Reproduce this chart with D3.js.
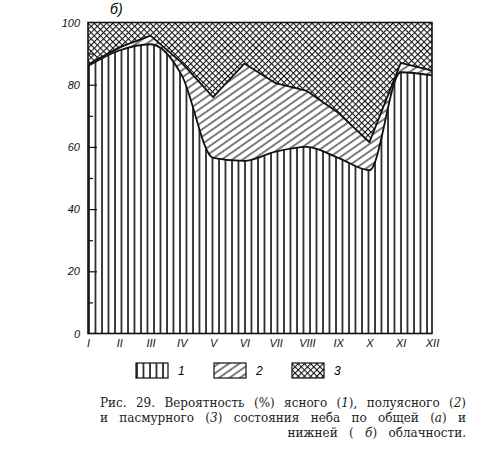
<!DOCTYPE html>
<html>
<head>
<meta charset="utf-8">
<script src="https://cdn.jsdelivr.net/npm/d3@7"></script>
<style>
body { margin: 0; background: #fff; }
.axis text { font-family: "Liberation Sans", sans-serif; font-style: italic; font-size: 11px; fill: #111; }
.axis path { display: none; }
.caption { font-family: "DejaVu Serif", serif; font-size: 12px; fill: #222; }
</style>
</head>
<body>
<div class="chart"></div>
<script>
// values, % by month
var months = ["I", "II", "III", "IV", "V", "VI", "VII", "VIII", "IX", "X", "XI", "XII"];
var clear = [86, 91, 93, 83, 56.5, 55.5, 58.5, 60, 56.5, 52.5, 84, 83];          // 1
var semiClear = [0.5, 1, 2.8, 4, 19.5, 31.3, 22, 18, 14.5, 9, 3, 1.5];           // 2
var overcast = [13.5, 8, 4.2, 13, 24, 13.2, 19.5, 22, 29, 38.5, 13, 15.5];       // 3
var yTicks = [0, 20, 40, 60, 80, 100];
var yMinor = [10, 30, 50, 70, 90];
var legendLabels = ["1", "2", "3"];

var margin = {top: 22.5, left: 88};
var Width = 344, Height = 311;

var rows = months.map(function(m, i) {
  return {month: m, clear: clear[i], semi: semiClear[i], overcast: overcast[i]};
});
var stacked = d3.stack().keys(["clear", "semi", "overcast"])(rows);

var svg = d3.select(".chart").append("svg")
  .attr("width", 494).attr("height", 460);

var defs = svg.append("defs");
// 1 - vertical hatch
var p1 = defs.append("pattern").attr("id", "hatch1")
  .attr("patternUnits", "userSpaceOnUse").attr("width", 6.5).attr("height", 10);
p1.append("rect").attr("width", 6.5).attr("height", 10).attr("fill", "#fff");
p1.append("line").attr("x1", 1).attr("x2", 1).attr("y1", 0).attr("y2", 10)
  .attr("stroke", "#111").attr("stroke-width", 1.6);
// 2 - slanted hatch
var p2 = defs.append("pattern").attr("id", "hatch2")
  .attr("patternUnits", "userSpaceOnUse").attr("width", 10).attr("height", 6)
  .attr("patternTransform", "rotate(-35)");
p2.append("rect").attr("width", 10).attr("height", 6).attr("fill", "#fff");
p2.append("line").attr("x1", 0).attr("x2", 10).attr("y1", 3).attr("y2", 3)
  .attr("stroke", "#111").attr("stroke-width", 1.1);
// 3 - cross hatch
var p3 = defs.append("pattern").attr("id", "hatch3")
  .attr("patternUnits", "userSpaceOnUse").attr("width", 4.4).attr("height", 4.4)
  .attr("patternTransform", "rotate(45)");
p3.append("rect").attr("width", 4.4).attr("height", 4.4).attr("fill", "#fff");
p3.append("line").attr("x1", 0).attr("x2", 4.4).attr("y1", 0.5).attr("y2", 0.5)
  .attr("stroke", "#111").attr("stroke-width", 1.1);
p3.append("line").attr("x1", 0.5).attr("x2", 0.5).attr("y1", 0).attr("y2", 4.4)
  .attr("stroke", "#111").attr("stroke-width", 1.1);
var fills = ["url(#hatch1)", "url(#hatch2)", "url(#hatch3)"];

var g = svg.append("g").attr("transform", "translate(" + margin.left + "," + margin.top + ")");

var xScale = d3.scalePoint().domain(months).range([0, Width]);
var yScale = d3.scaleLinear().domain([0, 100]).range([Height, 0]);

// upper edge of layer 1 is smooth, upper edge of layer 2 has sharp corners
var curves = [d3.curveMonotoneX, d3.curveLinear, d3.curveLinear];

// paint from the top layer down, each one filled to the x axis
[2, 1, 0].forEach(function(k) {
  var area = d3.area()
    .x(function(d) { return xScale(d.data.month); })
    .y0(Height)
    .y1(function(d) { return yScale(d[1]); })
    .curve(curves[k]);
  g.append("path").datum(stacked[k])
    .attr("fill", fills[k])
    .attr("d", area);
});

// boundary lines between layers
[0, 1].forEach(function(k) {
  var line = d3.line()
    .x(function(d) { return xScale(d.data.month); })
    .y(function(d) { return yScale(d[1]); })
    .curve(curves[k]);
  g.append("path").datum(stacked[k])
    .attr("fill", "none")
    .attr("stroke", "#111")
    .attr("stroke-width", 1.8)
    .attr("stroke-linejoin", "round")
    .attr("d", line);
});

// frame
g.append("rect").attr("width", Width).attr("height", Height)
  .attr("fill", "none").attr("stroke", "#111").attr("stroke-width", 1.6);

// y axis: labels outside, ticks inward
g.append("g").attr("class", "axis")
  .call(d3.axisLeft(yScale).tickValues(yTicks).tickSize(0).tickPadding(8));
g.append("g").attr("class", "axis")
  .call(d3.axisRight(yScale).tickValues(yTicks.slice(1, -1)).tickSize(9).tickFormat(""))
  .selectAll("line").attr("stroke", "#111").attr("stroke-width", 1.2);
g.append("g").attr("class", "axis")
  .call(d3.axisRight(yScale).tickValues(yMinor).tickSize(5).tickFormat(""))
  .selectAll("line").attr("stroke", "#111").attr("stroke-width", 1.2);

g.append("g").attr("class", "axis")
  .attr("transform", "translate(0," + Height + ")")
  .call(d3.axisBottom(xScale).tickSize(0).tickPadding(6));

svg.append("text")
  .attr("x", 110).attr("y", 14)
  .style("font-family", "Liberation Sans, sans-serif")
  .style("font-style", "italic").style("font-size", "14px")
  .text("б)");

// legend
var legend = svg.append("g").attr("transform", "translate(136,363)");
var lg = legend.selectAll("g").data(legendLabels).enter().append("g")
  .attr("transform", function(d, i) { return "translate(" + (i * 78) + ",0)"; });
lg.append("rect").attr("width", 32).attr("height", 15)
  .attr("fill", function(d, i) { return fills[i]; })
  .attr("stroke", "#111").attr("stroke-width", 1.2);
lg.append("text").attr("x", 42).attr("y", 12)
  .style("font-family", "Liberation Sans, sans-serif")
  .style("font-style", "italic").style("font-size", "12px")
  .text(function(d) { return d; });

// caption: lines 1 and 2 justified, line 3 right aligned with the same spacing
var capLeft = 100, capRight = 466;
var capLines = [
  [["Рис. 29. Вероятность (%) ясного (", 0], ["1", 1], ["), полуясного (", 0], ["2", 1], [")", 0]],
  [["и пасмурного (", 0], ["3", 1], [") состояния неба по общей (", 0], ["а", 1], [") и", 0]],
  [["нижней ( ", 0], ["б", 1], [") облачности.", 0]]
];
var capSpacing = 0;
capLines.forEach(function(parts, li) {
  var t = svg.append("text").attr("class", "caption")
    .attr("y", 407 + li * 15);
  parts.forEach(function(p) {
    t.append("tspan").style("font-style", p[1] ? "italic" : "normal").text(p[0]);
  });
  var w = t.node().getComputedTextLength();
  var gaps = parts.map(function(p) { return p[0]; }).join("").split(" ").length - 1;
  if (li < 2) {
    capSpacing = Math.max(0, (capRight - capLeft - w) / gaps);
    t.attr("x", capLeft).attr("word-spacing", capSpacing);
  } else {
    t.attr("word-spacing", capSpacing).attr("x", capRight - w - capSpacing * gaps);
  }
});
</script>
</body>
</html>
